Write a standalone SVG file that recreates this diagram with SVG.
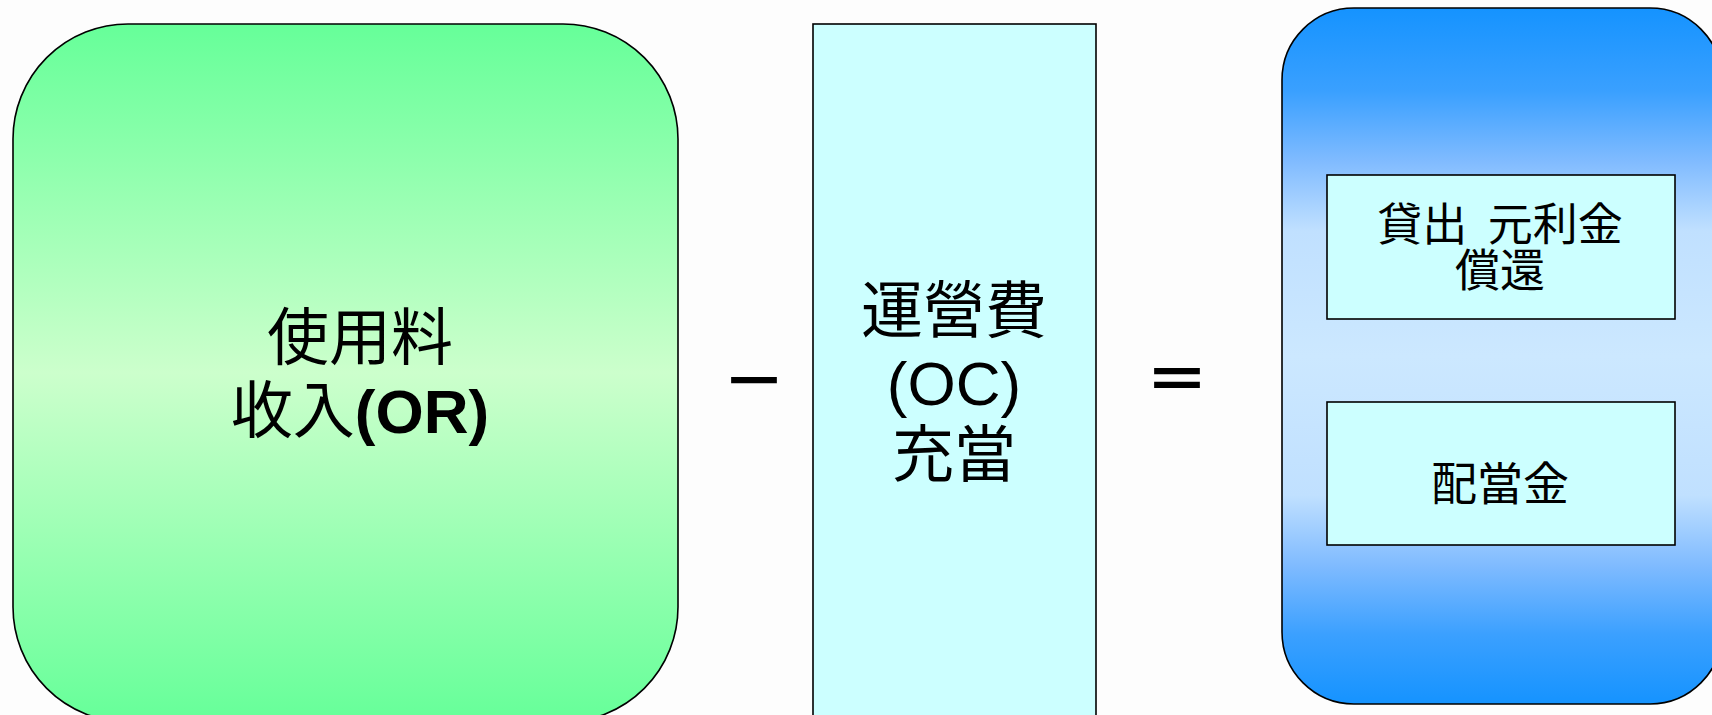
<svg xmlns="http://www.w3.org/2000/svg" width="1712" height="715" viewBox="0 0 1712 715">
<style>
.box{stroke:#000;stroke-width:1.6}
.cjk{font-family:"Liberation Sans","Noto Sans CJK JP",sans-serif;fill:#000;text-anchor:middle}
.op{stroke:#000;stroke-width:2.2}
</style>
<defs>
<linearGradient id="gGreen" x1="0" y1="0" x2="0" y2="1">
<stop offset="0" stop-color="#66ff99"/>
<stop offset="0.5" stop-color="#ccffcc"/>
<stop offset="1" stop-color="#66ff99"/>
</linearGradient>
<linearGradient id="gBlue" x1="0" y1="0" x2="0" y2="1">
<stop offset="0" stop-color="#1593ff"/>
<stop offset="0.12" stop-color="#3aa0ff"/>
<stop offset="0.22" stop-color="#80bbff"/>
<stop offset="0.32" stop-color="#c0e0ff"/>
<stop offset="0.5" stop-color="#cce8ff"/>
<stop offset="0.7" stop-color="#c0e0ff"/>
<stop offset="0.8" stop-color="#80bbff"/>
<stop offset="0.9" stop-color="#3ba0ff"/>
<stop offset="1" stop-color="#1593ff"/>
</linearGradient>
</defs>
<rect width="1712" height="715" fill="#fdfdfd"/>
<g id="revenue">
<rect class="box" x="13" y="24" width="665" height="698" rx="115" ry="115" fill="url(#gGreen)"/>
<text class="cjk" x="360" y="360" font-size="62">使用料</text>
<text class="cjk" x="360" y="433" font-size="62">收入<tspan font-weight="bold">(OR)</tspan></text>
</g>
<g id="minus">
<text class="cjk op" x="754" y="403" font-size="60">－</text>
</g>
<g id="opcost">
<rect class="box" x="813" y="24" width="283" height="700" fill="#ccffff"/>
<text class="cjk" x="954" y="333" font-size="62">運營費</text>
<text class="cjk" x="954" y="405" font-size="62">(OC)</text>
<text class="cjk" x="954" y="477" font-size="62">充當</text>
</g>
<g id="equals">
<text class="cjk op" x="1177" y="401" font-size="60">＝</text>
</g>
<g id="result">
<rect class="box" x="1282" y="8" width="440" height="696" rx="72" ry="72" fill="url(#gBlue)"/>
</g>
<g id="loan">
<rect class="box" x="1327" y="175" width="348" height="144" fill="#ccffff"/>
<text class="cjk" x="1500" y="241" font-size="45" word-spacing="8">貸出 元利金</text>
<text class="cjk" x="1500" y="287" font-size="45">償還</text>
</g>
<g id="dividend">
<rect class="box" x="1327" y="402" width="348" height="143" fill="#ccffff"/>
<text class="cjk" x="1500" y="500" font-size="46">配當金</text>
</g>
<g id="connectors"/>
</svg>
